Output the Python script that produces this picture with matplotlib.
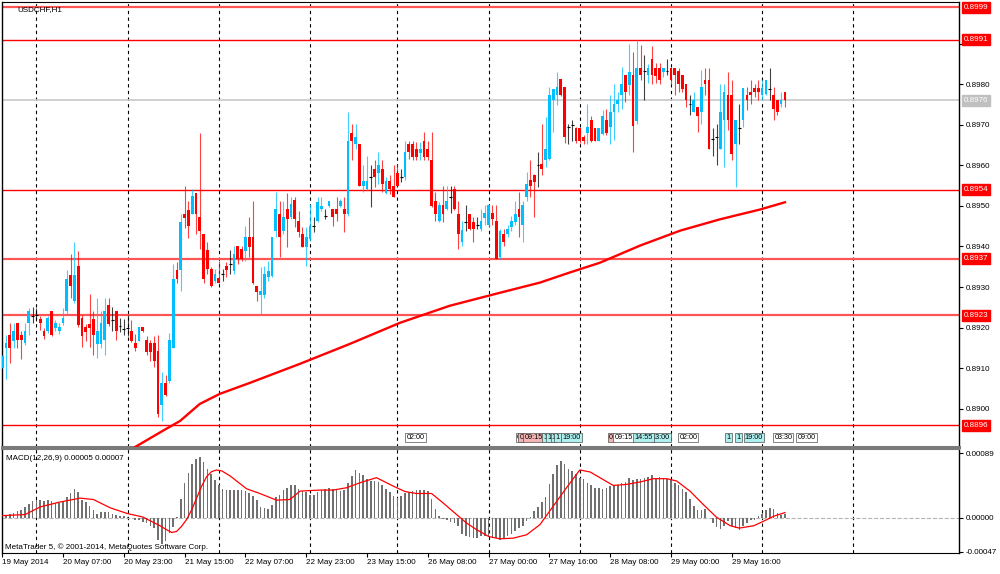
import numpy as np
import matplotlib
matplotlib.use("Agg")
import matplotlib.pyplot as plt
from matplotlib.transforms import blended_transform_factory

plt.rcParams['font.family'] = ['Liberation Sans', 'DejaVu Sans']

# H1 bars, index 0 = 19 May 2014 16:00 (bar -1 is cut by the left border)
bar_index = np.arange(-1, 206)

# prices in points (1e-5)
opens_pt = [89101,
    89150, 89183, 89166, 89212, 89183, 89162, 89212, 89228, 89232, 89222,
    89191, 89191, 89240, 89199, 89191, 89212, 89240, 89329, 89265, 89352,
    89224, 89201, 89210, 89222, 89160, 89160, 89170, 89257, 89220, 89240,
    89203, 89197, 89199, 89191, 89161, 89168, 89201, 89170, 89162, 89161,
    89142, 89010, 89063, 89068, 89150, 89341, 89341, 89479, 89491, 89479,
    89533, 89472, 89432, 89392, 89344, 89316, 89322, 89332, 89353, 89357,
    89340, 89400, 89394, 89390, 89423, 89423, 89303, 89281, 89281, 89324,
    89328, 89439, 89480, 89439, 89493, 89472, 89515, 89464, 89431, 89398,
    89419, 89451, 89464, 89493, 89476, 89501, 89493, 89493, 89501, 89493,
    89480, 89680, 89653, 89653, 89550, 89542, 89571, 89591, 89581, 89591,
    89531, 89562, 89550, 89581, 89571, 89571, 89653, 89653, 89641, 89630,
    89661, 89641, 89614, 89513, 89464, 89503, 89493, 89522, 89542, 89480,
    89410, 89460, 89480, 89460, 89452, 89443, 89471, 89452, 89482, 89464,
    89373, 89431, 89431, 89448, 89460, 89493, 89452, 89522, 89563, 89575,
    89600, 89604, 89612, 89616, 89760, 89773, 89812, 89793, 89694, 89700,
    89693, 89693, 89670, 89680, 89711, 89693, 89661, 89678, 89711, 89694,
    89731, 89752, 89773, 89822, 89797, 89822, 89709, 89841, 89833, 89822,
    89861, 89841, 89841, 89830, 89833, 89841, 89841, 89833, 89822, 89801,
    89752, 89731, 89744, 89731, 89811, 89811, 89666, 89670, 89641, 89711,
    89773, 89773, 89653, 89693, 89711, 89773, 89781, 89791, 89791, 89773,
    89777, 89789, 89773, 89760, 89752, 89781]
highs_pt = [89133,
    89183, 89212, 89212, 89212, 89191, 89212, 89249, 89250, 89249, 89228,
    89199, 89228, 89240, 89220, 89212, 89249, 89341, 89382, 89410, 89390,
    89232, 89210, 89282, 89240, 89272, 89240, 89272, 89272, 89250, 89240,
    89224, 89222, 89232, 89220, 89184, 89201, 89201, 89179, 89170, 89179,
    89183, 89090, 89084, 89187, 89356, 89361, 89479, 89549, 89512, 89541,
    89533, 89679, 89432, 89410, 89350, 89344, 89365, 89344, 89362, 89392,
    89400, 89400, 89400, 89451, 89472, 89513, 89303, 89349, 89353, 89365,
    89423, 89534, 89513, 89513, 89531, 89521, 89521, 89488, 89447, 89447,
    89505, 89472, 89521, 89521, 89493, 89513, 89493, 89521, 89517, 89521,
    89731, 89702, 89702, 89653, 89600, 89622, 89600, 89612, 89632, 89612,
    89571, 89575, 89600, 89604, 89592, 89661, 89661, 89661, 89657, 89657,
    89682, 89661, 89682, 89534, 89509, 89550, 89550, 89550, 89550, 89513,
    89464, 89503, 89480, 89472, 89472, 89493, 89503, 89503, 89503, 89503,
    89443, 89443, 89452, 89476, 89513, 89534, 89513, 89583, 89614, 89579,
    89633, 89703, 89719, 89793, 89789, 89830, 89812, 89793, 89703, 89711,
    89694, 89693, 89674, 89752, 89721, 89693, 89693, 89736, 89740, 89773,
    89801, 89781, 89842, 89822, 89900, 89880, 89908, 89896, 89871, 89849,
    89894, 89851, 89851, 89841, 89861, 89841, 89841, 89841, 89822, 89801,
    89773, 89781, 89744, 89834, 89841, 89841, 89693, 89703, 89801, 89801,
    89830, 89810, 89711, 89752, 89791, 89793, 89811, 89801, 89811, 89811,
    89811, 89841, 89793, 89760, 89781, 89781]
lows_pt = [89101,
    89073, 89113, 89150, 89150, 89123, 89158, 89183, 89212, 89216, 89195,
    89173, 89187, 89179, 89191, 89184, 89207, 89232, 89273, 89261, 89201,
    89153, 89166, 89152, 89133, 89124, 89150, 89132, 89205, 89191, 89170,
    89189, 89183, 89179, 89164, 89143, 89166, 89189, 89132, 89119, 89102,
    88981, 88969, 89031, 89063, 89150, 89310, 89291, 89446, 89421, 89479,
    89430, 89394, 89311, 89332, 89300, 89311, 89311, 89316, 89324, 89332,
    89332, 89357, 89365, 89365, 89373, 89307, 89265, 89233, 89274, 89316,
    89324, 89423, 89373, 89431, 89398, 89468, 89447, 89423, 89398, 89353,
    89414, 89435, 89460, 89488, 89468, 89497, 89451, 89464, 89497, 89435,
    89476, 89612, 89641, 89550, 89534, 89538, 89497, 89546, 89554, 89534,
    89530, 89530, 89522, 89550, 89559, 89563, 89616, 89614, 89614, 89614,
    89614, 89614, 89497, 89464, 89460, 89460, 89489, 89482, 89489, 89394,
    89402, 89439, 89441, 89410, 89443, 89439, 89452, 89448, 89452, 89369,
    89369, 89402, 89423, 89439, 89452, 89423, 89410, 89513, 89522, 89472,
    89546, 89575, 89596, 89612, 89682, 89748, 89770, 89655, 89653, 89661,
    89655, 89655, 89653, 89653, 89657, 89661, 89661, 89674, 89674, 89653,
    89663, 89731, 89740, 89756, 89773, 89633, 89703, 89810, 89760, 89803,
    89801, 89803, 89801, 89818, 89822, 89800, 89773, 89781, 89781, 89744,
    89723, 89731, 89682, 89703, 89773, 89641, 89622, 89600, 89641, 89596,
    89686, 89612, 89546, 89653, 89694, 89736, 89752, 89768, 89760, 89760,
    89773, 89760, 89711, 89723, 89744, 89744]
closes_pt = [89129,
    89162, 89150, 89191, 89170, 89170, 89191, 89240, 89228, 89232, 89212,
    89179, 89224, 89183, 89212, 89201, 89224, 89321, 89302, 89329, 89207,
    89180, 89189, 89199, 89181, 89191, 89212, 89242, 89209, 89220, 89191,
    89203, 89197, 89199, 89168, 89150, 89201, 89191, 89140, 89140, 89119,
    88987, 89063, 89035, 89170, 89321, 89319, 89461, 89469, 89450, 89524,
    89479, 89439, 89320, 89344, 89303, 89332, 89311, 89332, 89342, 89357,
    89381, 89369, 89369, 89423, 89398, 89311, 89289, 89291, 89332, 89340,
    89423, 89493, 89423, 89472, 89468, 89505, 89468, 89435, 89398, 89423,
    89451, 89451, 89509, 89501, 89476, 89513, 89472, 89480, 89513, 89480,
    89661, 89661, 89671, 89550, 89562, 89562, 89571, 89571, 89600, 89554,
    89562, 89542, 89522, 89550, 89571, 89633, 89633, 89620, 89620, 89641,
    89620, 89620, 89501, 89480, 89503, 89480, 89513, 89522, 89493, 89431,
    89441, 89460, 89443, 89443, 89452, 89464, 89482, 89503, 89468, 89369,
    89439, 89410, 89443, 89464, 89480, 89472, 89503, 89555, 89550, 89559,
    89600, 89592, 89641, 89773, 89789, 89793, 89773, 89670, 89694, 89700,
    89661, 89661, 89661, 89694, 89661, 89661, 89693, 89721, 89680, 89731,
    89752, 89760, 89801, 89781, 89830, 89698, 89841, 89822, 89833, 89841,
    89822, 89820, 89810, 89841, 89833, 89811, 89822, 89801, 89789, 89760,
    89752, 89760, 89721, 89793, 89801, 89641, 89666, 89670, 89731, 89781,
    89711, 89628, 89711, 89693, 89791, 89760, 89773, 89781, 89781, 89791,
    89811, 89789, 89740, 89731, 89760, 89760]

# MACD main line (histogram), units of 1e-5
macd_e5 = [2.8,
    3.2, 4.6, 6.5, 8.8, 11.1, 14.8, 19.4, 22.7, 25.0, 24.1,
    23.1, 24.1, 22.7, 20.4, 20.4, 22.7, 28.7, 33.3, 39.8, 35.2,
    25.0, 21.3, 15.7, 10.2, 5.6, 7.4, 7.4, 7.4, 5.6, 4.2,
    2.8, 1.9, 0.9, -0.9, -2.8, -3.7, -6.5, -7.4, -11.1, -14.4,
    -30.6, -36.1, -31.5, -21.3, -13.0, 0.9, 25.9, 47.2, 62.0, 73.6,
    81.5, 82.9, 76.9, 67.6, 59.7, 51.9, 44.4, 39.8, 38.0, 38.0,
    38.0, 38.0, 38.0, 36.6, 33.3, 29.6, 25.0, 14.8, 13.4, 12.0,
    18.1, 28.7, 31.9, 38.0, 41.2, 44.4, 44.4, 38.9, 36.6, 35.2,
    31.9, 31.9, 35.2, 38.0, 38.9, 41.2, 38.9, 38.0, 36.6, 38.0,
    47.2, 57.4, 65.7, 61.1, 58.3, 52.8, 50.5, 50.5, 49.1, 44.4,
    38.9, 35.2, 29.6, 27.3, 29.6, 33.3, 35.2, 36.6, 38.0, 38.0,
    38.0, 36.6, 25.9, 12.0, 1.9, -1.9, -2.8, -6.5, -7.4, -11.1,
    -22.2, -25.0, -26.9, -28.7, -28.7, -25.9, -25.9, -26.9, -27.8, -28.7,
    -30.6, -29.6, -25.9, -22.2, -19.0, -14.8, -11.1, -5.1, 0.9, 8.8,
    14.8, 21.3, 28.7, 45.8, 59.7, 72.2, 78.2, 73.6, 67.6, 64.4,
    59.7, 55.1, 52.8, 48.2, 44.4, 41.2, 41.2, 39.8, 41.2, 43.5,
    44.4, 44.4, 48.2, 49.1, 55.1, 51.9, 52.8, 53.7, 55.1, 56.5,
    58.3, 55.1, 56.5, 54.6, 53.7, 51.9, 48.2, 45.4, 38.9, 35.2,
    25.9, 16.7, 10.2, 11.1, 12.0, -0.5, -7.4, -13.0, -15.7, -11.1,
    -5.1, -11.1, -14.4, -16.7, -11.1, -7.4, -3.7, -2.8, 1.9, 5.6,
    11.1, 13.4, 12.0, 6.5, 4.2, 5.0]

# MACD signal line, read at these bars (1e-5)
signal_bars = [-1, 5, 9, 14, 19.5, 23, 27.5, 32, 36, 40.5, 42.3, 43.6, 44.9,
               46.2, 47.5, 48.9, 50.2, 51.5, 52.8, 54.1, 55.4, 56.8, 59,
               63.3, 66.8, 71.2, 74.7, 77.4, 82.6, 86.1, 89.6, 93.2,
               97.5, 101.9, 105, 108, 112, 115, 118.6, 121.2, 123.9, 127, 130,
               133.5, 137, 140.5, 144, 147.5, 151, 153.7, 156.3, 159.8, 163.3,
               166.8, 170.4, 173.9, 176.5, 180, 183.5, 187, 190.6, 193, 196.8,
               199.3, 202, 205]
signal_e5 = [2.8, 4.2, 14.8, 21.3, 26.9, 25.0, 13.4, 5.6, 0.9, -11.1, -16.7,
             -20.4, -19.0, -12.0, -2.8, 11.1, 27.3, 43.5, 56.5, 63.4, 65.7,
             64.4, 57.4, 39.8, 33.3, 24.1, 25.0, 36.6, 38.0,
             38.0, 41.2, 48.2, 55.1, 43.5, 36.0, 33.3, 33.3, 20.4, 4.2, -7.4,
             -16.7, -25.9, -29.2, -28.2, -23.6, -9.7, 15.7, 41.2, 65.7, 63.0,
             55.1, 44.4, 45.8, 49.1, 53.7, 53.7, 50.5, 36.6, 18.1, 0.5, -11.1,
             -14.4, -11.1, -5.1, 1.9, 7.0]

# moving average on price, read at these bars
ma_bars = [30, 34, 41.3, 45.8, 51, 56.3, 64.2, 77.4, 90.5, 103.7, 116.8, 130,
           140.5, 148.4, 156.3, 166.8, 177.4, 187.9, 198.4, 205]
ma_values = [0.88880, 0.88906, 0.88946, 0.88970, 0.89012, 0.89037, 0.89064,
             0.89111, 0.89160, 0.89212, 0.89254, 0.89286, 0.89311, 0.89336,
             0.89360, 0.89402, 0.89439, 0.89467, 0.89491, 0.89509]

levels = [0.8999, 0.8991, 0.8954, 0.8937, 0.8923, 0.8896]
last_price = 0.8976
day_starts = [8, 32, 56, 80, 103, 127, 151, 175, 199, 223]
time_ticks = [-1, 15, 31, 47, 63, 79, 95, 111, 127, 143, 159, 175, 191]
time_labels = ['19 May 2014', '20 May 07:00', '20 May 23:00', '21 May 15:00',
               '22 May 07:00', '22 May 23:00', '23 May 15:00', '26 May 08:00',
               '27 May 00:00', '27 May 16:00', '28 May 08:00', '29 May 00:00',
               '29 May 16:00']
price_ticks = [0.8900, 0.8910, 0.8920, 0.8930, 0.8940, 0.8950, 0.8960, 0.8970,
               0.8980, 0.8990]

# calendar events: bar, label, kind
events = [(105.0, '02:00', 'w'), (134.0, '0', 'w'), (134.7, '0', 'p'),
          (136.0, '09:15', 'p'), (141.0, '1', 'c'), (142.1, '1', 'c'),
          (143.2, '1', 'c'), (144.2, '1', 'c'), (146.0, '19:00', 'c'),
          (158.2, '0', 'p'), (159.7, '09:15', 'w'), (169.5, '13:00', 'c'),
          (165.0, '14:55', 'c'), (176.8, '02:00', 'w'), (189.2, '1', 'c'),
          (191.8, '1', 'c'), (194.0, '19:00', 'c'), (201.8, '03:30', 'w'),
          (207.9, '09:00', 'w')]

BULL = '#00bfff'
BEAR = '#ff0000'
FS = 5.8


def main():
    W, H = 1000, 574
    fig = plt.figure(figsize=(W / 100, H / 100), dpi=100)
    fig.patch.set_facecolor('white')

    def rect(l, t, r, b):
        return [l / W, 1 - b / H, (r - l) / W, (b - t) / H]

    ax = fig.add_axes(rect(2, 2, 959, 447))
    axm = fig.add_axes(rect(2, 449, 959, 553))

    x = bar_index
    o = np.array(opens_pt) / 1e5
    h = np.array(highs_pt) / 1e5
    l = np.array(lows_pt) / 1e5
    c = np.array(closes_pt) / 1e5
    colors = np.where(c > o, BULL, np.where(c < o, BEAR, 'black'))
    flat = c == o

    xlim = (-1.05, 250.8)
    for a in (ax, axm):
        a.set_xlim(*xlim)
        for d in day_starts:
            a.axvline(d, color='black', lw=0.8, dashes=(3, 3), zorder=1)

    # levels
    for lv in levels:
        thick = lv in (0.8999, 0.8937, 0.8923)
        ax.axhline(lv, color='#ff5555' if thick else 'red',
                   lw=1.6 if thick else 1.0, zorder=2)
    ax.axhline(last_price, color='#c8c8c8', lw=1.2, zorder=2)

    # candles
    ax.vlines(x, l, h, colors=colors, lw=0.8, alpha=0.75, zorder=3)
    ax.bar(x[~flat], (c - o)[~flat], bottom=o[~flat], width=0.7,
           color=colors[~flat], lw=0, zorder=4)
    ax.hlines(c[flat], x[flat] - 0.35, x[flat] + 0.35, colors='black',
              lw=0.8, zorder=4)

    ax.plot(ma_bars, ma_values, color='red', lw=1.7, zorder=5)
    ax.set_ylim(0.889059, 0.900025)

    # axes style
    ax.set_xticks([])
    ax.yaxis.tick_right()
    ax.set_yticks(price_ticks)
    ax.set_yticklabels(['%.4f' % p for p in price_ticks])
    ax.tick_params(axis='y', direction='out', length=3, width=0.8,
                   labelsize=FS, pad=1.5)
    ax.spines['bottom'].set_color('#7a7a7a')
    ax.spines['bottom'].set_linewidth(2.2)

    trans = blended_transform_factory(ax.transAxes, ax.transData)
    for lv in levels:
        ax.text(1.0048, lv, '%.4f' % lv, transform=trans, color='white',
                fontsize=FS, va='center', ha='left', clip_on=False, zorder=10,
                bbox=dict(boxstyle='square,pad=0.25', fc='red', ec='red'))
    ax.text(1.0048, last_price, '%.4f' % last_price, transform=trans,
            color='white', fontsize=FS, va='center', ha='left', clip_on=False,
            zorder=10, bbox=dict(boxstyle='square,pad=0.25', fc='#c0c0c0',
                                 ec='#c0c0c0'))

    # event flags
    fills = {'w': 'white', 'p': '#f4b4b4', 'c': '#aef0f0'}
    etr = ax.get_xaxis_transform()
    for k, (bx, lab, kind) in enumerate(events):
        z = 7 + k
        if lab == '13:00':
            z = 6
        ax.text(bx + 0.4, 0.021, lab, transform=etr, fontsize=5.2,
                va='center', ha='left', zorder=z,
                bbox=dict(boxstyle='square,pad=0.15', fc=fills[kind],
                          ec='#505050', lw=0.5))

    # MACD panel
    axm.axhline(0, color='#b4b4b4', lw=0.8, ls='--', zorder=1)
    axm.bar(x, np.array(macd_e5) * 1e-5, width=0.45, color='#707070',
            lw=0, zorder=2)
    axm.plot(signal_bars, np.array(signal_e5) * 1e-5, color='red', lw=0.9,
             zorder=3)
    axm.set_ylim(-0.000487, 0.000946)
    axm.yaxis.tick_right()
    axm.set_yticks([-0.00047, 0.0, 0.00089])
    axm.set_yticklabels(['-0.00047', '0.00000', '0.00089'])
    axm.tick_params(axis='y', direction='out', length=3, width=0.8,
                    labelsize=FS, pad=1.5)
    axm.spines['top'].set_color('#7a7a7a')
    axm.spines['top'].set_linewidth(1.5)

    axm.set_xticks(time_ticks)
    axm.set_xticklabels(time_labels)
    axm.tick_params(axis='x', direction='out', length=3, width=0.8,
                    labelsize=FS, pad=1.5)
    for lbl in axm.get_xticklabels():
        lbl.set_ha('left')

    for a in (ax, axm):
        for s in ('left', 'right'):
            a.spines[s].set_linewidth(1.0)

    fig.text(17 / W, 1 - 10 / H, 'USDCHF,H1', fontsize=FS, va='center')
    fig.text(6 / W, 1 - 458 / H, 'MACD(12,26,9) 0.00005 0.00007',
             fontsize=FS, va='center')
    fig.text(5 / W, 1 - 547 / H,
             'MetaTrader 5, \u00a9 2001-2014, MetaQuotes Software Corp.',
             fontsize=FS, va='center')

    fig.savefig('out.png', dpi=100)


if __name__ == "__main__":
    main()
